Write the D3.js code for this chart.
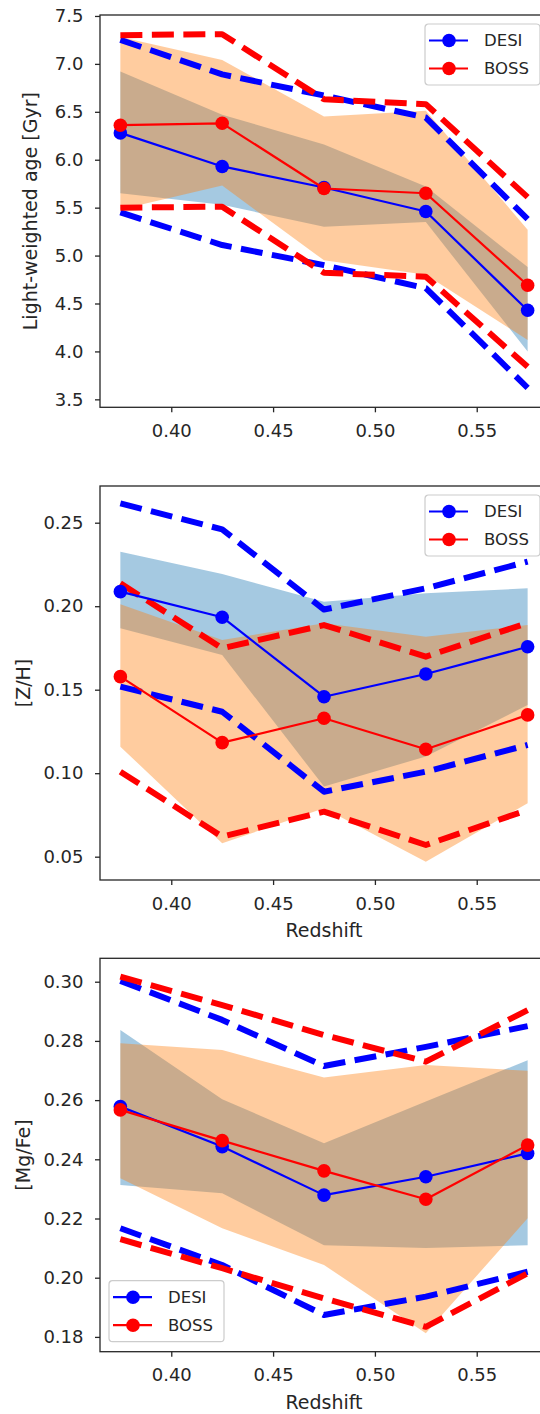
<!DOCTYPE html>
<html>
<head>
<meta charset="utf-8">
<script src="https://cdn.jsdelivr.net/npm/d3@7"></script>
<style>
  html, body { margin: 0; padding: 0; background: #ffffff; }
  svg { display: block; font-family: "DejaVu Sans", sans-serif; }
</style>
</head>
<body>
<svg id="chart" width="540" height="1414"></svg>
<script>
// Redshift bins shared by all three panels
const redshift = [0.375, 0.425, 0.475, 0.525, 0.575];
const seriesNames = ["DESI", "BOSS"];
const xTicks = [0.40, 0.45, 0.50, 0.55];

// Light-weighted age [Gyr]
const desiAge       = [6.28, 5.93, 5.71, 5.46, 4.43];
const bossAge       = [6.36, 6.38, 5.70, 5.65, 4.69];
const desiAgeBandLo = [5.65, 5.53, 5.30, 5.35, 4.00];
const desiAgeBandHi = [6.92, 6.47, 6.16, 5.72, 4.88];
const bossAgeBandLo = [5.48, 5.73, 4.95, 4.80, 4.12];
const bossAgeBandHi = [7.28, 7.04, 6.45, 6.51, 5.27];
const desiAgeDashLo = [5.45, 5.11, 4.90, 4.66, 3.62];
const desiAgeDashHi = [7.25, 6.89, 6.67, 6.44, 5.38];
const bossAgeDashLo = [5.50, 5.51, 4.82, 4.78, 3.84];
const bossAgeDashHi = [7.30, 7.31, 6.63, 6.58, 5.61];
const ageTicks = [3.5, 4.0, 4.5, 5.0, 5.5, 6.0, 6.5, 7.0, 7.5];

// [Z/H]
const desiZH       = [0.2087, 0.1934, 0.1458, 0.1594, 0.1757];
const bossZH       = [0.1578, 0.1183, 0.1329, 0.1143, 0.1349];
const desiZHBandLo = [0.1868, 0.1708, 0.0920, 0.1100, 0.1408];
const desiZHBandHi = [0.2326, 0.2193, 0.2027, 0.2077, 0.2107];
const bossZHBandLo = [0.1159, 0.0580, 0.0790, 0.0470, 0.0820];
const bossZHBandHi = [0.2011, 0.1797, 0.1898, 0.1817, 0.1887];
const desiZHDashLo = [0.1518, 0.1368, 0.0889, 0.1009, 0.1169];
const desiZHDashHi = [0.2616, 0.2460, 0.1980, 0.2107, 0.2267];
const bossZHDashLo = [0.1009, 0.0620, 0.0770, 0.0570, 0.0780];
const bossZHDashHi = [0.2137, 0.1748, 0.1887, 0.1698, 0.1900];
const zhTicks = [0.05, 0.10, 0.15, 0.20, 0.25];

// [Mg/Fe]
const desiMg       = [0.2578, 0.2443, 0.2279, 0.2341, 0.2420];
const bossMg       = [0.2567, 0.2463, 0.2361, 0.2265, 0.2448];
const desiMgBandLo = [0.2313, 0.2285, 0.2110, 0.2100, 0.2110];
const desiMgBandHi = [0.2837, 0.2603, 0.2454, 0.2595, 0.2735];
const bossMgBandLo = [0.2336, 0.2167, 0.2043, 0.1812, 0.2201];
const bossMgBandHi = [0.2792, 0.2769, 0.2676, 0.2719, 0.2699];
const desiMgDashLo = [0.2167, 0.2043, 0.1874, 0.1936, 0.2020];
const desiMgDashHi = [0.3003, 0.2871, 0.2715, 0.2780, 0.2850];
const bossMgDashLo = [0.2130, 0.2032, 0.1930, 0.1834, 0.2015];
const bossMgDashHi = [0.3017, 0.2921, 0.2820, 0.2730, 0.2904];
const mgTicks = [0.18, 0.20, 0.22, 0.24, 0.26, 0.28, 0.30];

const COLORS = {
  desi: "#0000ff", boss: "#ff0000",
  desiBand: "#1f77b4", bossBand: "#ff7f0e",
  text: "#262626", axis: "#262626"
};

const panels = [
  { label: "Light-weighted age [Gyr]", top: 15, bottom: 407.3, domain: [3.417, 7.51],
    ticks: ageTicks, fmt: ".1f", labelX: 37, xLabel: false, legend: "upper right",
    desi: [desiAge, desiAgeBandLo, desiAgeBandHi, desiAgeDashLo, desiAgeDashHi],
    boss: [bossAge, bossAgeBandLo, bossAgeBandHi, bossAgeDashLo, bossAgeDashHi] },
  { label: "[Z/H]", top: 486, bottom: 880, domain: [0.03604, 0.27198],
    ticks: zhTicks, fmt: ".2f", labelX: 30, xLabel: true, legend: "upper right",
    desi: [desiZH, desiZHBandLo, desiZHBandHi, desiZHDashLo, desiZHDashHi],
    boss: [bossZH, bossZHBandLo, bossZHBandHi, bossZHDashLo, bossZHDashHi] },
  { label: "[Mg/Fe]", top: 958.3, bottom: 1351.7, domain: [0.17500, 0.30791],
    ticks: mgTicks, fmt: ".2f", labelX: 30, xLabel: true, legend: "lower left",
    desi: [desiMg, desiMgBandLo, desiMgBandHi, desiMgDashLo, desiMgDashHi],
    boss: [bossMg, bossMgBandLo, bossMgBandHi, bossMgDashLo, bossMgDashHi] }
];

const svg = d3.select("#chart");
const axLeft = 100, axRight = 548;
const x = d3.scaleLinear().domain([0.365, 0.585]).range([axLeft, axRight]);

const TICK_FONT = 18, LABEL_FONT = 19, LEGEND_FONT = 16.5;
const MEAN_W = 2.2, DASH_W = 6, MARKER_R = 6.8;
const DASH = "22,9.5";

panels.forEach(p => {
  const y = d3.scaleLinear().domain(p.domain).range([p.bottom, p.top]);
  const g = svg.append("g");

  const band = (lo, hi) => d3.area()
    .x((d, i) => x(redshift[i]))
    .y0((d, i) => y(lo[i]))
    .y1((d, i) => y(hi[i]))(redshift);
  const line = vals => d3.line()
    .x((d, i) => x(redshift[i]))
    .y((d, i) => y(vals[i]))(redshift);

  // shaded bands
  g.append("path").attr("d", band(p.desi[1], p.desi[2]))
    .attr("fill", COLORS.desiBand).attr("fill-opacity", 0.4);
  g.append("path").attr("d", band(p.boss[1], p.boss[2]))
    .attr("fill", COLORS.bossBand).attr("fill-opacity", 0.4);

  // dashed envelopes
  [[p.desi, COLORS.desi], [p.boss, COLORS.boss]].forEach(([s, c]) => {
    [s[3], s[4]].forEach(vals => {
      g.append("path").attr("d", line(vals))
        .attr("fill", "none").attr("stroke", c)
        .attr("stroke-width", DASH_W).attr("stroke-dasharray", DASH)
        .attr("stroke-linejoin", "round").attr("stroke-linecap", "butt");
    });
  });

  // mean relations with markers
  [[p.desi[0], COLORS.desi], [p.boss[0], COLORS.boss]].forEach(([vals, c]) => {
    g.append("path").attr("d", line(vals))
      .attr("fill", "none").attr("stroke", c)
      .attr("stroke-width", MEAN_W).attr("stroke-linejoin", "round");
    g.selectAll(null).data(vals).enter().append("circle")
      .attr("cx", (d, i) => x(redshift[i]))
      .attr("cy", d => y(d))
      .attr("r", MARKER_R).attr("fill", c);
  });

  // frame
  g.append("rect")
    .attr("x", axLeft).attr("y", p.top)
    .attr("width", axRight - axLeft).attr("height", p.bottom - p.top)
    .attr("fill", "none").attr("stroke", COLORS.axis).attr("stroke-width", 1.3);

  // axes
  const yAxis = g.append("g").attr("transform", `translate(${axLeft},0)`)
    .call(d3.axisLeft(y).tickValues(p.ticks).tickFormat(d3.format(p.fmt))
      .tickSize(5).tickSizeOuter(0).tickPadding(11.5));
  const xAxis = g.append("g").attr("transform", `translate(0,${p.bottom})`)
    .call(d3.axisBottom(x).tickValues(xTicks).tickFormat(d3.format(".2f"))
      .tickSize(5).tickSizeOuter(0).tickPadding(12));
  [yAxis, xAxis].forEach(a => {
    a.select(".domain").remove();
    a.selectAll(".tick line").attr("stroke", COLORS.axis).attr("stroke-width", 1.3);
    a.selectAll(".tick text").attr("fill", COLORS.text)
      .style("font-size", TICK_FONT + "px").style("font-family", "DejaVu Sans");
  });

  // axis labels
  g.append("text")
    .attr("transform", `translate(${p.labelX},${(p.top + p.bottom) / 2}) rotate(-90)`)
    .attr("text-anchor", "middle").attr("fill", COLORS.text)
    .style("font-size", LABEL_FONT + "px").text(p.label);
  if (p.xLabel) {
    g.append("text")
      .attr("x", (axLeft + axRight) / 2).attr("y", p.bottom + 57)
      .attr("text-anchor", "middle").attr("fill", COLORS.text)
      .style("font-size", LABEL_FONT + "px").text("Redshift");
  }

  // legend
  const lw = 115, lh = 61;
  const lx = p.legend === "upper right" ? 425 : 109;
  const ly = p.legend === "upper right" ? p.top + 9 : p.bottom - 10 - lh;
  const lg = g.append("g").attr("transform", `translate(${lx},${ly})`);
  lg.append("rect").attr("width", lw).attr("height", lh).attr("rx", 3.5)
    .attr("fill", "#ffffff").attr("fill-opacity", 0.8)
    .attr("stroke", "#cccccc").attr("stroke-width", 1.2);
  seriesNames.forEach((name, i) => {
    const c = i === 0 ? COLORS.desi : COLORS.boss;
    const ry = 16.5 + i * 28;
    lg.append("line").attr("x1", 4).attr("x2", 43).attr("y1", ry).attr("y2", ry)
      .attr("stroke", c).attr("stroke-width", MEAN_W);
    lg.append("circle").attr("cx", 24).attr("cy", ry).attr("r", MARKER_R).attr("fill", c);
    lg.append("text").attr("x", 59).attr("y", ry).attr("dy", "0.36em")
      .attr("fill", COLORS.text).style("font-size", LEGEND_FONT + "px").text(name);
  });
});
</script>
</body>
</html>
